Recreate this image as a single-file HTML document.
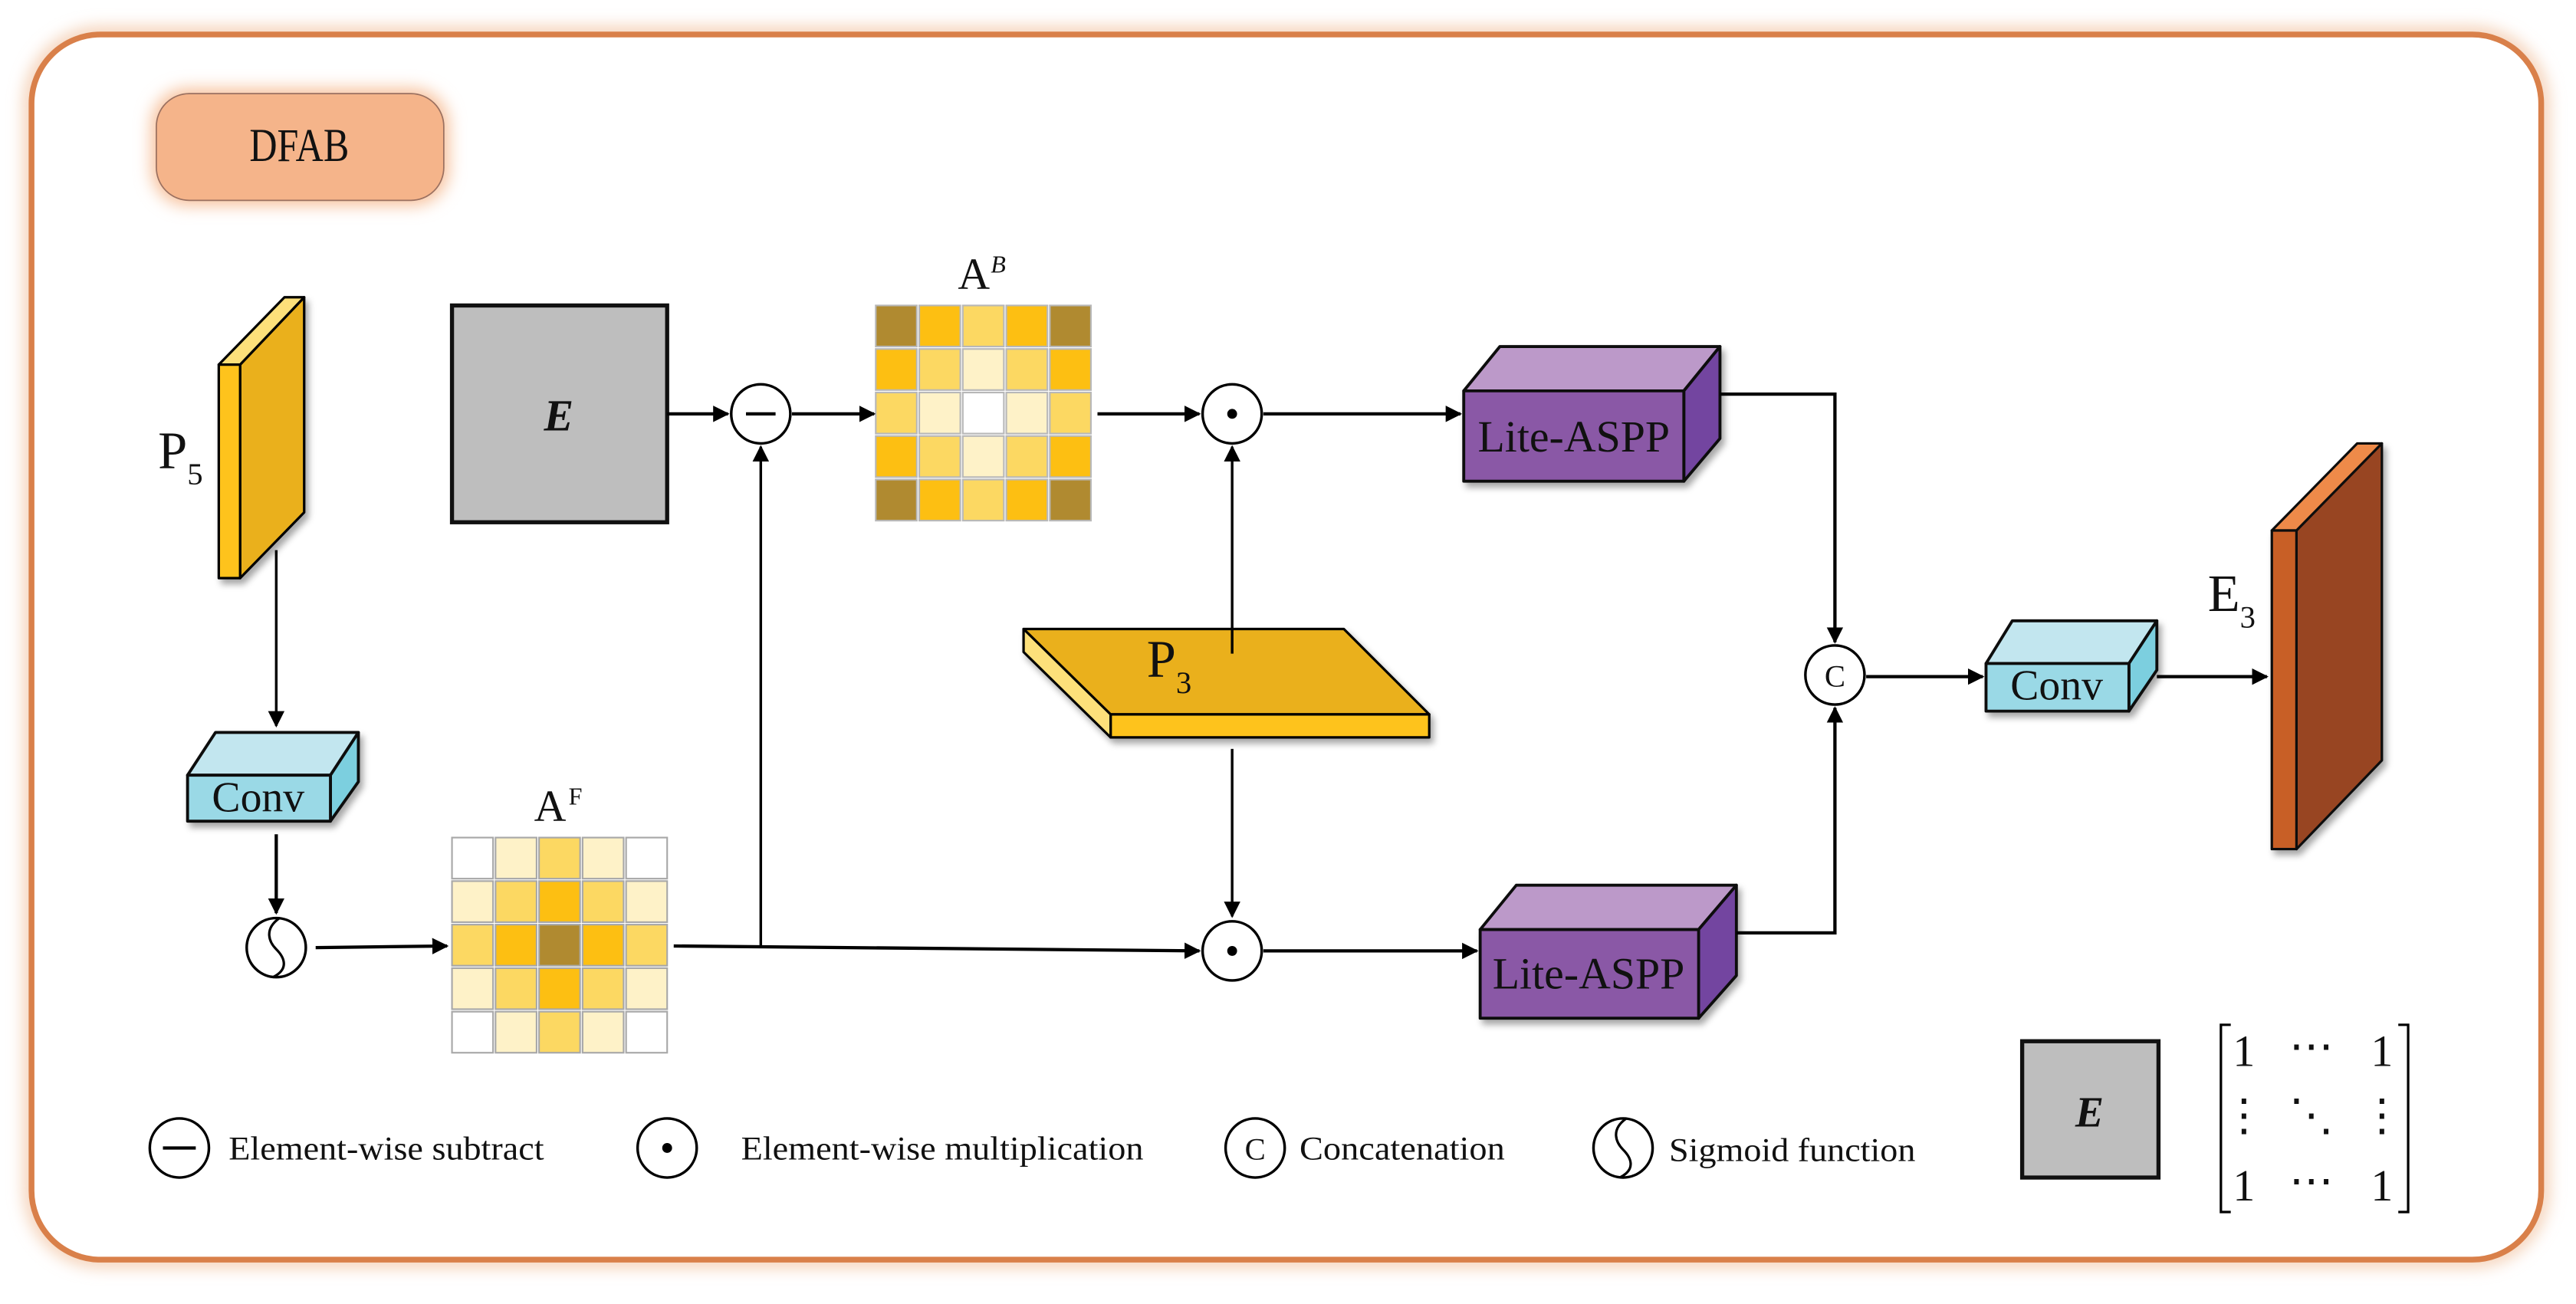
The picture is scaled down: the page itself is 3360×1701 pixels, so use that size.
<!DOCTYPE html>
<html><head><meta charset="utf-8"><style>
html,body{margin:0;padding:0;background:#fff;}
svg{display:block;}
text{font-family:"Liberation Serif",serif;fill:#111;}
</style></head><body>
<svg width="3360" height="1701" viewBox="0 0 1568 794" xmlns="http://www.w3.org/2000/svg">
<defs>
<marker id="ar" markerWidth="10" markerHeight="10" refX="9" refY="5" orient="auto" markerUnits="userSpaceOnUse">
<path d="M0,0 L10,5 L0,10 z" fill="#000"/></marker>
<filter id="glow" x="-20%" y="-40%" width="140%" height="180%"><feGaussianBlur stdDeviation="5"/></filter>
<filter id="sh" x="-10%" y="-10%" width="130%" height="130%"><feDropShadow dx="2" dy="3" stdDeviation="2" flood-color="#000" flood-opacity="0.35"/></filter>
</defs>
<rect width="1568" height="794" fill="#fff"/>
<rect x="19" y="21" width="1528" height="746" rx="42" fill="none" stroke="#f2c6a6" stroke-width="8" filter="url(#glow)"/>
<rect x="19" y="21" width="1528" height="746" rx="42" fill="#fff" stroke="#d9804a" stroke-width="3.5"/>
<rect x="92" y="54" width="181" height="71" rx="22" fill="#f7c09a" filter="url(#glow)"/>
<rect x="95" y="57" width="175" height="65" rx="20" fill="#f5b48a" stroke="#9a7060" stroke-width="0.8"/>
<text x="182" y="98" font-size="26" text-anchor="middle" transform="translate(182 98) scale(0.9 1.1) translate(-182 -98)">DFAB</text>

<g stroke="#000" stroke-width="1.5" stroke-linejoin="round" filter="url(#sh)">
<polygon points="146,222 185,181 185,312 146,352" fill="#eab01e"/>
<polygon points="133,222 173,181 185,181 146,222" fill="#fde07a"/>
<polygon points="133,222 146,222 146,352 133,352" fill="#fec31f"/>
</g>
<text x="96" y="285" font-size="32">P<tspan font-size="19" dy="10">5</tspan></text>

<rect x="275" y="186" width="131" height="132" fill="#bebebe" stroke="#111" stroke-width="2.5"/>
<text x="340" y="262" font-size="27" font-weight="bold" font-style="italic" text-anchor="middle">E</text>

<g stroke="#b8b8b8" stroke-width="1">
<rect x="533" y="186" width="25" height="25" fill="#b08a30"/><rect x="559.5" y="186" width="25" height="25" fill="#fdbf12"/><rect x="586" y="186" width="25" height="25" fill="#fcd862"/><rect x="612.5" y="186" width="25" height="25" fill="#fdbf12"/><rect x="639" y="186" width="25" height="25" fill="#b08a30"/>
<rect x="533" y="212.5" width="25" height="25" fill="#fdbf12"/><rect x="559.5" y="212.5" width="25" height="25" fill="#fcd862"/><rect x="586" y="212.5" width="25" height="25" fill="#fef2c8"/><rect x="612.5" y="212.5" width="25" height="25" fill="#fcd862"/><rect x="639" y="212.5" width="25" height="25" fill="#fdbf12"/>
<rect x="533" y="239" width="25" height="25" fill="#fcd862"/><rect x="559.5" y="239" width="25" height="25" fill="#fef2c8"/><rect x="586" y="239" width="25" height="25" fill="#ffffff"/><rect x="612.5" y="239" width="25" height="25" fill="#fef2c8"/><rect x="639" y="239" width="25" height="25" fill="#fcd862"/>
<rect x="533" y="265.5" width="25" height="25" fill="#fdbf12"/><rect x="559.5" y="265.5" width="25" height="25" fill="#fcd862"/><rect x="586" y="265.5" width="25" height="25" fill="#fef2c8"/><rect x="612.5" y="265.5" width="25" height="25" fill="#fcd862"/><rect x="639" y="265.5" width="25" height="25" fill="#fdbf12"/>
<rect x="533" y="292" width="25" height="25" fill="#b08a30"/><rect x="559.5" y="292" width="25" height="25" fill="#fdbf12"/><rect x="586" y="292" width="25" height="25" fill="#fcd862"/><rect x="612.5" y="292" width="25" height="25" fill="#fdbf12"/><rect x="639" y="292" width="25" height="25" fill="#b08a30"/>
</g>
<text x="583" y="176" font-size="27">A</text><text x="603" y="166" font-size="15" font-style="italic">B</text>

<g stroke="#a8a8a8" stroke-width="1">
<rect x="275" y="510" width="25" height="25" fill="#ffffff"/><rect x="301.5" y="510" width="25" height="25" fill="#fef2c8"/><rect x="328" y="510" width="25" height="25" fill="#fcd862"/><rect x="354.5" y="510" width="25" height="25" fill="#fef2c8"/><rect x="381" y="510" width="25" height="25" fill="#ffffff"/>
<rect x="275" y="536.5" width="25" height="25" fill="#fef2c8"/><rect x="301.5" y="536.5" width="25" height="25" fill="#fcd862"/><rect x="328" y="536.5" width="25" height="25" fill="#fdbf12"/><rect x="354.5" y="536.5" width="25" height="25" fill="#fcd862"/><rect x="381" y="536.5" width="25" height="25" fill="#fef2c8"/>
<rect x="275" y="563" width="25" height="25" fill="#fcd862"/><rect x="301.5" y="563" width="25" height="25" fill="#fdbf12"/><rect x="328" y="563" width="25" height="25" fill="#b08a30"/><rect x="354.5" y="563" width="25" height="25" fill="#fdbf12"/><rect x="381" y="563" width="25" height="25" fill="#fcd862"/>
<rect x="275" y="589.5" width="25" height="25" fill="#fef2c8"/><rect x="301.5" y="589.5" width="25" height="25" fill="#fcd862"/><rect x="328" y="589.5" width="25" height="25" fill="#fdbf12"/><rect x="354.5" y="589.5" width="25" height="25" fill="#fcd862"/><rect x="381" y="589.5" width="25" height="25" fill="#fef2c8"/>
<rect x="275" y="616" width="25" height="25" fill="#ffffff"/><rect x="301.5" y="616" width="25" height="25" fill="#fef2c8"/><rect x="328" y="616" width="25" height="25" fill="#fcd862"/><rect x="354.5" y="616" width="25" height="25" fill="#fef2c8"/><rect x="381" y="616" width="25" height="25" fill="#ffffff"/>
</g>
<text x="325" y="500" font-size="27">A</text><text x="346" y="490" font-size="15">F</text>

<g stroke="#000" stroke-width="1.5" stroke-linejoin="round" filter="url(#sh)">
<polygon points="623,383 818,383 870,435 676,435" fill="#eab01e"/>
<polygon points="676,435 870,435 870,449 676,449" fill="#fec31f"/>
<polygon points="623,383 676,435 676,449 623,397" fill="#fde07a"/>
</g>
<text x="698" y="412" font-size="32">P<tspan font-size="19" dy="10">3</tspan></text>

<g stroke="#111" stroke-width="1.8" stroke-linejoin="round" filter="url(#sh)">
<polygon points="891,238 913,211 1047,211 1025,238" fill="#bc99c9"/>
<polygon points="1025,238 1047,211 1047,267 1025,293" fill="#7345a0"/>
<rect x="891" y="238" width="134" height="55" fill="#8a59a6"/>
</g>
<text x="958" y="275" font-size="27" text-anchor="middle">Lite-ASPP</text>
<g stroke="#111" stroke-width="1.8" stroke-linejoin="round" filter="url(#sh)">
<polygon points="901,566 923,539 1057,539 1034,566" fill="#bc99c9"/>
<polygon points="1034,566 1057,539 1057,594 1034,620" fill="#7345a0"/>
<rect x="901" y="566" width="133" height="54" fill="#8a59a6"/>
</g>
<text x="967" y="602" font-size="27" text-anchor="middle">Lite-ASPP</text>

<g stroke="#111" stroke-width="1.8" stroke-linejoin="round" filter="url(#sh)">
<polygon points="114,472 131,446 218,446 201,472" fill="#c2e6ef"/>
<polygon points="201,472 218,446 218,476 201,500" fill="#7ccfdf"/>
<rect x="114" y="472" width="87" height="28" fill="#9ad9e6"/>
</g>
<text x="157" y="494" font-size="26" text-anchor="middle">Conv</text>
<g stroke="#111" stroke-width="1.8" stroke-linejoin="round" filter="url(#sh)">
<polygon points="1209,404 1225,378 1313,378 1296,404" fill="#c2e6ef"/>
<polygon points="1296,404 1313,378 1313,408 1296,433" fill="#7ccfdf"/>
<rect x="1209" y="404" width="87" height="29" fill="#9ad9e6"/>
</g>
<text x="1252" y="426" font-size="26" text-anchor="middle">Conv</text>

<g stroke="#111" stroke-width="1.5" stroke-linejoin="round" filter="url(#sh)">
<polygon points="1398,323 1450,270 1450,463 1398,517" fill="#984420"/>
<polygon points="1383,323 1435,270 1450,270 1398,323" fill="#ee8a48"/>
<rect x="1383" y="323" width="15" height="194" fill="#c85f28"/>
</g>
<text x="1344" y="372" font-size="32">E<tspan font-size="19" dy="10">3</tspan></text>

<g stroke="#000" stroke-width="2" fill="none">
<line x1="406" y1="252" x2="443" y2="252" marker-end="url(#ar)"/>
<line x1="482" y1="252" x2="532" y2="252" marker-end="url(#ar)"/>
<line x1="668" y1="252" x2="730" y2="252" marker-end="url(#ar)"/>
<line x1="769" y1="252" x2="889" y2="252" marker-end="url(#ar)"/>
<polyline points="1047,240 1117,240 1117,391" marker-end="url(#ar)"/>
<polyline points="1057,568 1117,568 1117,431" marker-end="url(#ar)"/>
<line x1="1136" y1="412" x2="1207" y2="412" marker-end="url(#ar)"/>
<line x1="1313" y1="412" x2="1380" y2="412" marker-end="url(#ar)"/>
<line x1="750" y1="398" x2="750" y2="272" marker-end="url(#ar)" stroke-width="1.6"/>
<line x1="750" y1="456" x2="750" y2="558" marker-end="url(#ar)" stroke-width="1.6"/>
<line x1="168" y1="335" x2="168" y2="442" marker-end="url(#ar)" stroke-width="1.6"/>
<line x1="168" y1="508" x2="168" y2="556" marker-end="url(#ar)"/>
<line x1="192" y1="577" x2="272" y2="576" marker-end="url(#ar)"/>
<line x1="410" y1="576" x2="730" y2="579" marker-end="url(#ar)"/>
<line x1="463" y1="576" x2="463" y2="272" marker-end="url(#ar)" stroke-width="1.6"/>
<line x1="769" y1="579" x2="899" y2="579" marker-end="url(#ar)"/>
</g>

<g stroke="#000" stroke-width="1.6" fill="#fff">
<circle cx="463" cy="252" r="18"/>
<circle cx="750" cy="252" r="18"/>
<circle cx="750" cy="579" r="18"/>
<circle cx="1117" cy="411" r="18"/>
<circle cx="168" cy="577" r="18"/>
</g>
<line x1="454" y1="252" x2="472" y2="252" stroke="#000" stroke-width="2"/>
<circle cx="750" cy="252" r="3" fill="#000"/>
<circle cx="750" cy="579" r="3" fill="#000"/>
<text x="1117" y="418" font-size="19" text-anchor="middle">C</text>
<path d="M170,559 C160,566 164,574 168,578 C173,583 176,590 166,595" fill="none" stroke="#000" stroke-width="1.5"/>

<g stroke="#000" stroke-width="1.6" fill="#fff">
<circle cx="109" cy="699" r="18"/>
<circle cx="406" cy="699" r="18"/>
<circle cx="764" cy="699" r="18"/>
<circle cx="988" cy="699" r="18"/>
</g>
<line x1="99" y1="699" x2="119" y2="699" stroke="#000" stroke-width="2"/>
<circle cx="406" cy="699" r="3" fill="#000"/>
<text x="764" y="706" font-size="19" text-anchor="middle">C</text>
<path d="M990,681 C980,688 984,696 988,700 C993,705 996,712 986,717" fill="none" stroke="#000" stroke-width="1.5"/>
<text x="139" y="706" font-size="20" textLength="192" lengthAdjust="spacingAndGlyphs">Element-wise subtract</text>
<text x="451" y="706" font-size="20" textLength="245" lengthAdjust="spacingAndGlyphs">Element-wise multiplication</text>
<text x="791" y="706" font-size="20" textLength="125" lengthAdjust="spacingAndGlyphs">Concatenation</text>
<text x="1016" y="707" font-size="20" textLength="150" lengthAdjust="spacingAndGlyphs">Sigmoid function</text>

<rect x="1231" y="634" width="83" height="83" fill="#bebebe" stroke="#111" stroke-width="2.5"/>
<text x="1272" y="686" font-size="26" font-weight="bold" font-style="italic" text-anchor="middle">E</text>
<g stroke="#000" stroke-width="1.5" fill="none">
<polyline points="1358,624 1352,624 1352,738 1358,738"/>
<polyline points="1460,624 1466,624 1466,738 1460,738"/>
</g>
<g font-size="27" text-anchor="middle">
<text x="1366" y="649">1</text><text x="1407" y="646">⋯</text><text x="1450" y="649">1</text>
<text x="1366" y="688">⋮</text><text x="1407" y="688">⋱</text><text x="1450" y="688">⋮</text>
<text x="1366" y="731">1</text><text x="1407" y="728">⋯</text><text x="1450" y="731">1</text>
</g>
</svg>
</body></html>
